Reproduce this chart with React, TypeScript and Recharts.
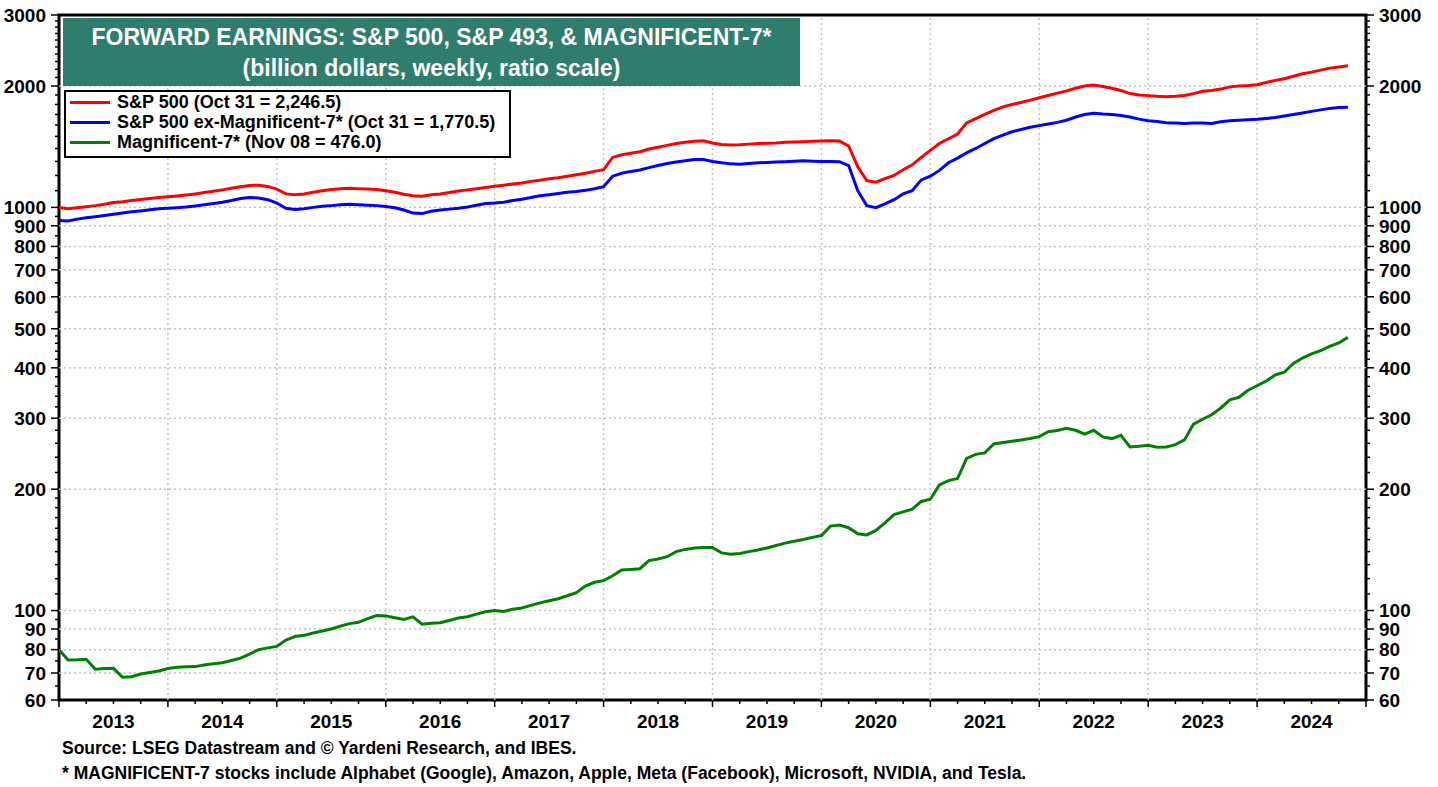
import { LineChart, Line, XAxis, YAxis, ReferenceLine, ReferenceArea } from "recharts";

// monthly readings, Jan 2013 .. end Oct 2024 (billion dollars)
const sp500 = [
  1000, 992, 998, 1004, 1010, 1018, 1028, 1033, 1040, 1046, 1052, 1058,
  1062, 1067, 1073, 1080, 1088, 1096, 1105, 1115, 1125, 1133, 1135, 1127,
  1110, 1080, 1075, 1080, 1090, 1100, 1108, 1112, 1115, 1112, 1110, 1108,
  1100, 1090, 1078, 1068, 1066, 1075, 1080, 1088, 1098, 1105, 1112, 1120,
  1128, 1135, 1143, 1150, 1160, 1168, 1178, 1185, 1195, 1205, 1215, 1228,
  1240, 1330, 1350, 1362, 1374, 1395, 1410, 1425, 1440, 1450, 1458, 1462,
  1445, 1432, 1428, 1430, 1435, 1440, 1442, 1445, 1450, 1452, 1455, 1458,
  1460, 1462, 1460, 1420, 1260, 1165, 1155, 1178, 1200, 1240, 1275, 1330,
  1385, 1440, 1480, 1520, 1620, 1660, 1700, 1740, 1775, 1800, 1820, 1845,
  1870, 1895, 1920, 1945, 1975, 2000, 2010, 1995, 1975, 1950, 1915, 1900,
  1893, 1885, 1880, 1885, 1895, 1915, 1940, 1950, 1965, 1990, 2000, 2005,
  2015, 2040, 2065, 2085, 2115, 2145, 2165, 2190, 2215, 2230, 2246.5,
];

const exMag7 = [
  928, 925, 935, 942, 948, 955, 962, 968, 975, 980, 986, 992,
  995, 998, 1002, 1008, 1015, 1022, 1030, 1040, 1052, 1058, 1055, 1045,
  1025, 995, 988, 992, 1000, 1006, 1010, 1015, 1018, 1015, 1012, 1010,
  1005, 998, 985, 968, 965, 978, 985, 990, 995, 1002, 1012, 1022,
  1025, 1030, 1040, 1048, 1058, 1068, 1075, 1082, 1090, 1095, 1102, 1112,
  1125, 1195, 1215, 1228, 1238, 1255, 1270, 1285, 1295, 1305, 1315, 1315,
  1300, 1290, 1282, 1280, 1285, 1290, 1292, 1295, 1298, 1302, 1305, 1302,
  1300, 1300, 1298, 1270, 1100, 1010, 998, 1020, 1045, 1080, 1100, 1170,
  1195, 1235, 1290, 1325, 1365, 1400, 1440, 1480, 1510, 1540, 1560, 1580,
  1595, 1610, 1625, 1645, 1675, 1700, 1712, 1705, 1700, 1690, 1675, 1655,
  1640, 1632, 1622, 1618, 1615, 1618, 1620, 1615, 1630, 1640, 1645, 1650,
  1655, 1662, 1670, 1685, 1700, 1715, 1730, 1745, 1760, 1768, 1770.5,
];

const mag7 = [
  80, 75.4, 75.5, 75.7, 71.5, 71.8, 71.9, 68.3, 68.5, 69.6, 70.2, 70.8,
  71.8, 72.3, 72.5, 72.6, 73.3, 73.8, 74.2, 75.2, 76.2, 78, 80, 80.8,
  81.5, 84.5, 86.2, 86.8, 88, 89, 90, 91.5, 92.8, 93.5, 95.5, 97.2,
  97, 96, 95, 96.5, 92.5, 93, 93.3, 94.5, 95.8, 96.5, 98, 99.3,
  100, 99.5, 100.8, 101.5, 103, 104.5, 105.8, 107, 108.8, 110.8, 115, 117.5,
  118.6, 122, 126, 126.5, 127, 133, 134.2, 136, 140, 141.8, 143, 143.4,
  143.4, 139, 138, 138.5, 140, 141.3, 143, 145, 147, 148.5, 150, 151.9,
  153.5, 162, 163, 160.5, 155, 154, 158, 165, 173, 175.7, 178.5, 186.5,
  188.8, 205, 210, 212.5, 238.5, 244, 246, 259, 261, 263, 265, 267,
  270, 277.7, 279.5, 283, 280, 274, 280, 269.5, 267, 272, 254.6, 255.7,
  257, 254, 254.6, 258, 265, 290, 298.2, 306, 318, 333, 338, 352,
  361, 371, 384, 390, 410, 423, 433, 441, 452, 461, 476,
];

const years = [2013, 2014, 2015, 2016, 2017, 2018, 2019, 2020, 2021, 2022, 2023, 2024];

const yMajor = [60, 70, 80, 90, 100, 200, 300, 400, 500, 600, 700, 800, 900, 1000, 2000, 3000];
const yMinor = [
  65, 75, 85, 95,
  110, 120, 130, 140, 150, 160, 170, 180, 190,
  220, 240, 260, 280, 320, 340, 360, 380, 420, 440, 460, 480,
  550, 650, 750, 850, 950,
  1100, 1200, 1300, 1400, 1500, 1600, 1700, 1800, 1900,
  2100, 2200, 2300, 2400, 2500, 2600, 2700, 2800, 2900,
];
const yTicks = [...yMajor, ...yMinor].sort((a, b) => a - b);

const legendItems = [
  { color: "#ff0000", label: "S&P 500 (Oct 31 = 2,246.5)" },
  { color: "#0000ff", label: "S&P 500 ex-Magnificent-7* (Oct 31 = 1,770.5)" },
  { color: "#008000", label: "Magnificent-7* (Nov 08 = 476.0)" },
];

const data = sp500.map((v, i) => ({
  t: 2013 + i / 12,
  sp500: v,
  exMag7: exMag7[i],
  mag7: mag7[i],
}));

const xTicks: number[] = [];
for (let y = 2013; y <= 2025; y += 0.25) xTicks.push(y);

const FONT = '"Liberation Sans", Arial, sans-serif';

function YTick(props: any) {
  const { x, y, payload, side } = props;
  const v = payload.value;
  const major = yMajor.includes(v);
  const dir = side === "left" ? -1 : 1;
  const len = major ? 8 : 4;
  return (
    <g>
      <line x1={x} x2={x + dir * len} y1={y} y2={y} stroke="#000" strokeWidth={1.5} />
      {major && (
        <text
          x={x + dir * 13}
          y={y}
          dy="0.36em"
          textAnchor={side === "left" ? "end" : "start"}
          fontFamily={FONT}
          fontWeight="bold"
          fontSize={19}
          fill="#000"
        >
          {v}
        </text>
      )}
    </g>
  );
}

function XTick(props: any) {
  const { x, y, payload } = props;
  const v = payload.value;
  const whole = Number.isInteger(v);
  const mid = Math.abs(v - Math.floor(v) - 0.5) < 1e-6;
  return (
    <g>
      <line x1={x} x2={x} y1={y} y2={y + (whole ? 7 : 4)} stroke="#000" strokeWidth={1.5} />
      {mid && (
        <text
          x={x}
          y={y + 21}
          dy="0.36em"
          textAnchor="middle"
          fontFamily={FONT}
          fontWeight="bold"
          fontSize={19}
          fill="#000"
        >
          {Math.floor(v)}
        </text>
      )}
    </g>
  );
}

export default function App() {
  return (
    <div style={{ position: "absolute", left: 0, top: 0, width: 1438, height: 787, background: "#fff", fontFamily: FONT }}>
      <LineChart width={1438} height={787} data={data} margin={{ top: 15, right: 0, bottom: 57, left: 0 }}>
        <XAxis
          dataKey="t"
          type="number"
          domain={[2013, 2025]}
          ticks={xTicks}
          interval={0}
          tickSize={0}
          tickMargin={0}
          axisLine={false}
          tick={<XTick />}
          height={30}
          allowDataOverflow
        />
        <YAxis
          yAxisId="left"
          scale="log"
          type="number"
          domain={[60, 3000]}
          ticks={yTicks}
          interval={0}
          tickSize={0}
          tickMargin={0}
          axisLine={false}
          tick={(p: any) => <YTick {...p} side="left" />}
          width={59}
          allowDataOverflow
        />
        <YAxis
          yAxisId="right"
          orientation="right"
          scale="log"
          type="number"
          domain={[60, 3000]}
          ticks={yTicks}
          interval={0}
          tickSize={0}
          tickMargin={0}
          axisLine={false}
          tick={(p: any) => <YTick {...p} side="right" />}
          width={72}
          allowDataOverflow
        />
        {yMajor
          .filter((v) => v > 60 && v < 3000)
          .map((v) => (
            <ReferenceLine key={"h" + v} yAxisId="left" y={v} stroke="#c4c4c4" strokeWidth={1.5} strokeDasharray="2 3" />
          ))}
        {years.slice(1).map((yr) => (
          <ReferenceLine key={"v" + yr} yAxisId="left" x={yr} stroke="#c4c4c4" strokeWidth={1.5} strokeDasharray="2 3" />
        ))}
        <Line yAxisId="left" type="linear" dataKey="sp500" stroke="#ff0000" strokeWidth={3} dot={false} activeDot={false} isAnimationActive={false} />
        <Line yAxisId="left" type="linear" dataKey="exMag7" stroke="#0000ff" strokeWidth={3} dot={false} activeDot={false} isAnimationActive={false} />
        <Line yAxisId="right" type="linear" dataKey="mag7" stroke="#008000" strokeWidth={3} dot={false} activeDot={false} isAnimationActive={false} />
        <ReferenceArea yAxisId="left" x1={2013} x2={2025} y1={60} y2={3000} fill="none" stroke="#000" strokeWidth={3} />
      </LineChart>

      <div
        style={{
          position: "absolute",
          left: 63,
          top: 18,
          width: 737,
          height: 68,
          background: "#2e7d6e",
          color: "#fff",
          fontWeight: "bold",
          fontSize: 23,
          textAlign: "center",
          lineHeight: "31px",
          paddingTop: 4,
          boxSizing: "border-box",
        }}
      >
        <div>FORWARD EARNINGS: S&amp;P 500, S&amp;P 493, &amp; MAGNIFICENT-7*</div>
        <div>(billion dollars, weekly, ratio scale)</div>
      </div>

      <div
        style={{
          position: "absolute",
          left: 64,
          top: 90,
          width: 447,
          height: 68,
          background: "#fff",
          border: "2px solid #000",
          boxSizing: "border-box",
          paddingTop: 0,
        }}
      >
        {legendItems.map((it) => (
          <div key={it.label} style={{ display: "flex", alignItems: "center", height: 20 }}>
            <div style={{ width: 40, height: 3, background: it.color, marginLeft: 4, marginRight: 7 }} />
            <span style={{ fontSize: 18, fontWeight: "bold", color: "#000", whiteSpace: "nowrap" }}>{it.label}</span>
          </div>
        ))}
      </div>

      <div style={{ position: "absolute", left: 62, top: 736, fontSize: 17.5, fontWeight: "bold", color: "#000", lineHeight: "25px", whiteSpace: "nowrap" }}>
        <div>Source: LSEG Datastream and © Yardeni Research, and IBES.</div>
        <div>* MAGNIFICENT-7 stocks include Alphabet (Google), Amazon, Apple, Meta (Facebook), Microsoft, NVIDIA, and Tesla.</div>
      </div>
    </div>
  );
}
